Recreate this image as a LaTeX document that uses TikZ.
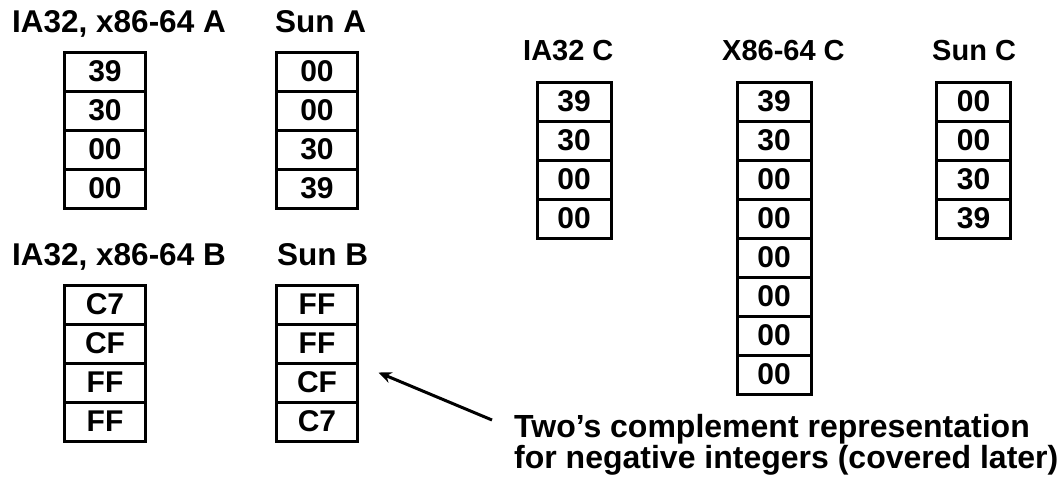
\documentclass[tikz,border=0pt]{standalone}
\usepackage{fontspec}
\setmainfont{Liberation Sans}
\usetikzlibrary{arrows.meta}

\begin{document}
\begin{tikzpicture}[x=1pt,y=-1pt,
  title/.style={anchor=base west, inner sep=0pt, font=\fontsize{31.5}{31.5}\selectfont\bfseries},
  subtitle/.style={title, font=\fontsize{29}{29}\selectfont\bfseries},
  cell/.style={draw, line width=3pt, minimum height=39pt, inner sep=0pt,
    font=\fontsize{30}{30}\selectfont\bfseries},
  wide/.style={cell, minimum width=81pt},
  narrow/.style={cell, minimum width=74pt},
  pointer/.style={line width=3pt, -{Stealth[length=13pt,width=11pt]}}
]
\useasboundingbox (0,0) rectangle (1058,485);
\fill[white] (0,0) rectangle (1058,485);

% column headings
\node[title] (tA)  at (12,32)  {IA32, x86-64 A};
\node[title] (tSA) at (275,32) {Sun A};
\node[title] (tB)  at (12,265) {IA32, x86-64 B};
\node[title] (tSB) at (277,265) {Sun B};
\node[subtitle] (tC)  at (523,60) {IA32 C};
\node[subtitle] (tXC) at (722,60) {X86-64 C};
\node[subtitle] (tSC) at (932,60) {Sun C};

% int A = 15213 (little / big endian)
\foreach \v [count=\i] in {39,30,00,00}
  \node[wide] (a\i) at (105,{52+39*\i-19.5}) {\v};
\foreach \v [count=\i] in {00,00,30,39}
  \node[wide] (sa\i) at (317,{52+39*\i-19.5}) {\v};

% int B = -15213
\foreach \v [count=\i] in {C7,CF,FF,FF}
  \node[wide] (b\i) at (105,{285+39*\i-19.5}) {\v};
\foreach \v [count=\i] in {FF,FF,CF,C7}
  \node[wide] (sb\i) at (317,{285+39*\i-19.5}) {\v};

% long int C
\foreach \v [count=\i] in {39,30,00,00}
  \node[narrow] (c\i) at (574,{82+39*\i-19.5}) {\v};
\foreach \v [count=\i] in {39,30,00,00,00,00,00,00}
  \node[narrow] (xc\i) at (774,{82+39*\i-19.5}) {\v};
\foreach \v [count=\i] in {00,00,30,39}
  \node[narrow] (sc\i) at (973.5,{82+39*\i-19.5}) {\v};

% note on negative values (anchored on the baseline of its last line)
\node[anchor=base west, inner sep=0pt, align=left,
  font=\fontsize{32}{31}\selectfont\bfseries] (note) at (514,468)
  {Two’s complement representation\\for negative integers (covered later)};
\coordinate (tail) at (492,420);
\coordinate (tip) at ([xshift=19.5pt,yshift=10pt]sb3.east);
\draw[pointer] (tail) -- (tip);
\end{tikzpicture}
\end{document}
